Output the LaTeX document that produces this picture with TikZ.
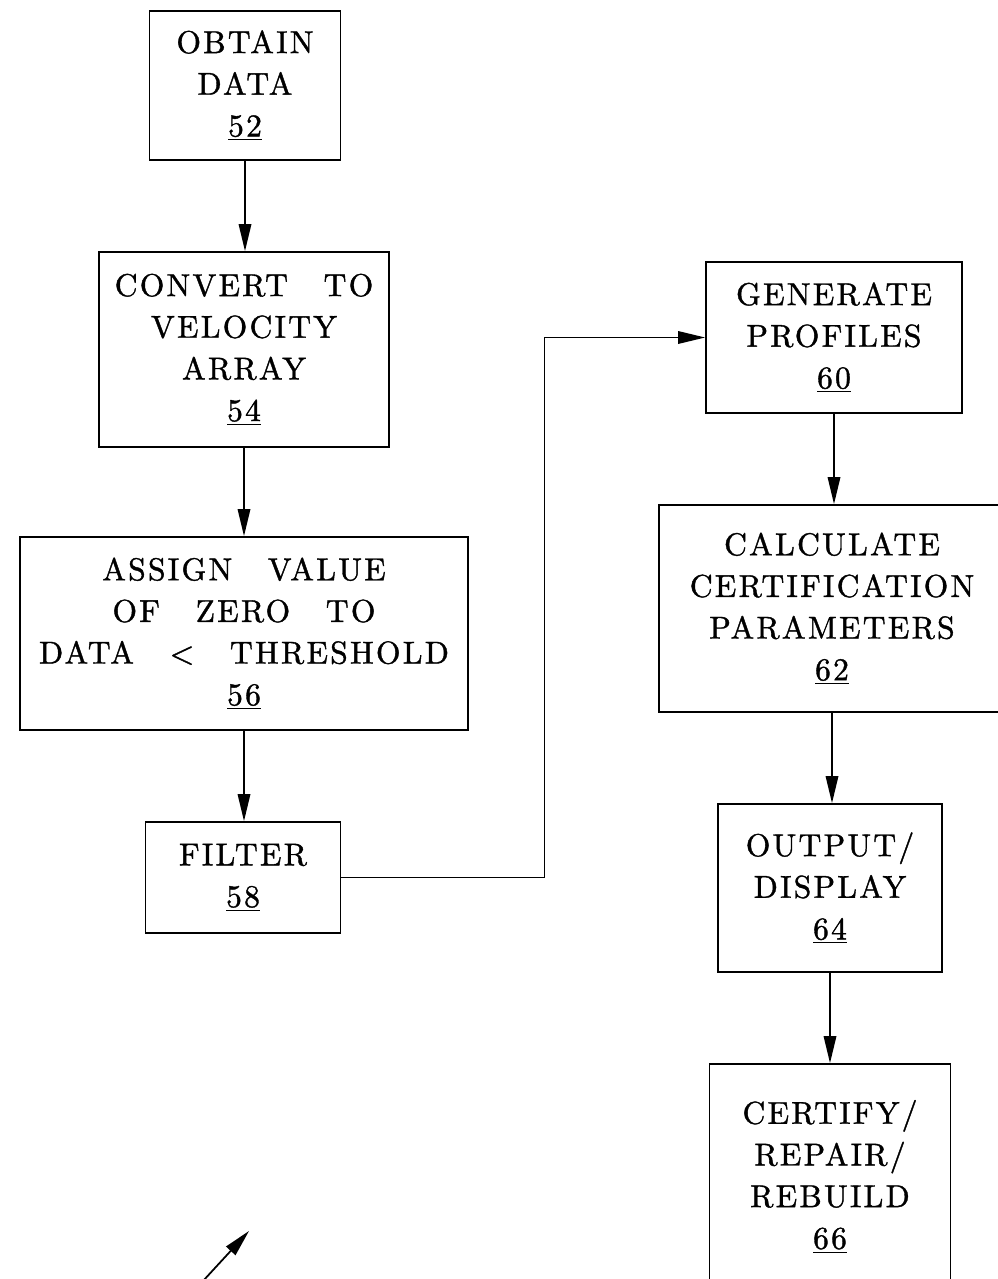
\documentclass[tikz,border=0pt]{standalone}
\usepackage{fontspec}
\usepackage{tikz}
\usetikzlibrary{arrows.meta, positioning}
\newfontfamily\chartfont{lmroman10-regular.otf}[LetterSpace=7, WordSpace=2.8, FakeBold=1.2]

\begin{document}
\begin{tikzpicture}[
    x=0.2mm, y=-0.2mm,
    box/.style={draw=black, rectangle, line width=1pt, inner sep=0pt, align=center,
                font=\chartfont\fontsize{18}{23.7}\selectfont},
    arrow/.style={-{Triangle[length=5.4mm, width=2.5mm]}, line width=1pt, draw=black}
]
\useasboundingbox (0,0) rectangle (997,1279);

%% ---- LEFT COLUMN (x=244) ----
\node [box, minimum width=38.2mm, minimum height=29.8mm] (obtain)  at (245, 85.5)  {OBTAIN\\DATA\\\underline{52}};
\node [box, minimum width=58mm,   minimum height=39mm]   (convert) at (244, 349.5) {CONVERT TO\\VELOCITY\\ARRAY\\\underline{54}};
\node [box, minimum width=89.6mm, minimum height=38.6mm] (assign)  at (244, 633.5) {ASSIGN VALUE\\OF ZERO TO\\DATA < THRESHOLD\\\underline{56}};
\node [box, minimum width=39mm,   minimum height=22.2mm] (filter)  at (243, 877.5) {FILTER\\\underline{58}};

%% ---- RIGHT COLUMN (x=832) ----
\node [box, minimum width=51.2mm, minimum height=30.2mm] (profiles) at (834, 337.5) {GENERATE\\PROFILES\\\underline{60}};
\node [box, minimum width=69.2mm, minimum height=41.4mm] (calc)     at (832, 608.5) {CALCULATE\\CERTIFICATION\\PARAMETERS\\\underline{62}};
\node [box, minimum width=44.8mm, minimum height=33.6mm] (output)   at (830, 888)   {OUTPUT/\\DISPLAY\\\underline{64}};
\node [box, minimum width=48.2mm, minimum height=45mm]   (certify)  at (830, 1176.5) {CERTIFY/\\REPAIR/\\REBUILD\\\underline{66}};

%% ---- LEFT COLUMN ARROWS ----
\draw [arrow] (obtain)  -- (obtain |- convert.north);
\draw [arrow] (convert) -- (convert |- assign.north);
\draw [arrow] (assign)  -- (assign |- filter.north);

%% ---- BRIDGE: filter over to profiles ----
\draw [arrow] (filter.east) -- ++(203,0) |- (profiles.west);

%% ---- RIGHT COLUMN ARROWS ----
\draw [arrow] (profiles) -- (profiles |- calc.north);
\draw [arrow] (calc)     -- (calc |- output.north);
\draw [arrow] (output)   -- (output |- certify.north);

%% ---- lead arrow, bottom left ----
\coordinate (leadtail) at (203,1281);
\coordinate (leadtip)  at (249,1231);
\draw [arrow] (leadtail) -- (leadtip);

\end{tikzpicture}
\end{document}
